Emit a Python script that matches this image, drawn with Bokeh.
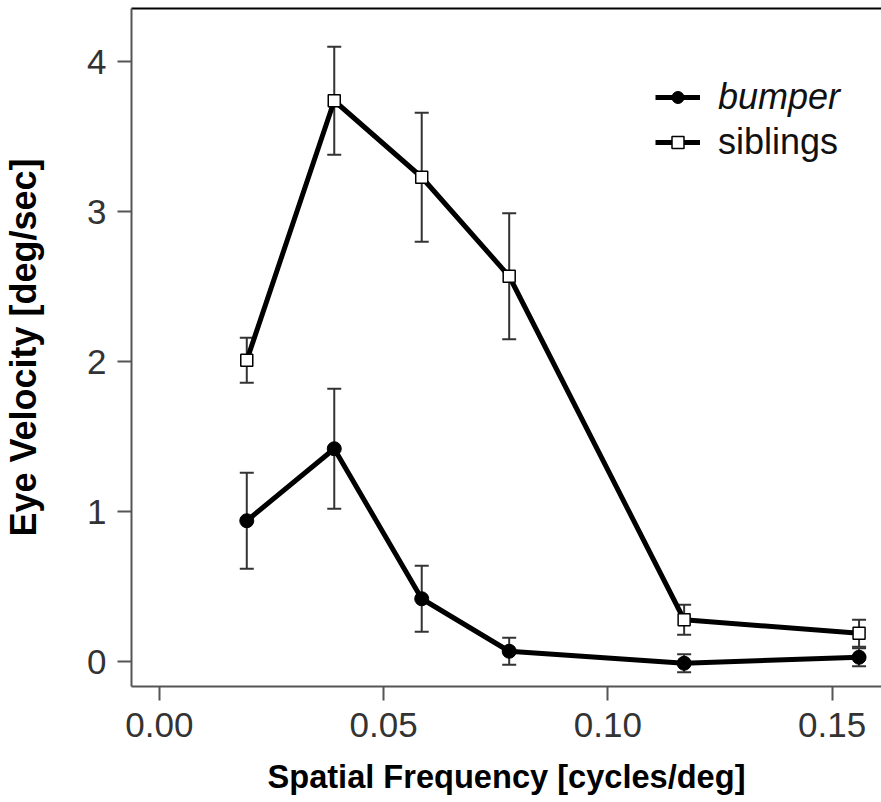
from bokeh.plotting import figure
from bokeh.models import (ColumnDataSource, Whisker, TeeHead, Legend, LegendItem,
                          LinearAxis, FixedTicker, Range1d)
from bokeh.embed import file_html
from bokeh.resources import INLINE

# ---- data ----
freq = [0.0195, 0.039, 0.0585, 0.078, 0.117, 0.156]
bumper = [0.94, 1.42, 0.42, 0.07, -0.01, 0.03]
bumper_sem = [0.32, 0.40, 0.22, 0.09, 0.06, 0.06]
siblings = [2.01, 3.74, 3.23, 2.57, 0.28, 0.19]
siblings_sem = [0.15, 0.36, 0.43, 0.42, 0.10, 0.09]
x_ticks = [0.0, 0.05, 0.10, 0.15]
y_ticks = [0, 1, 2, 3, 4]

FONT = "Liberation Sans"

def src(vals, sem):
    return ColumnDataSource(dict(
        x=freq, y=vals,
        upper=[v + s for v, s in zip(vals, sem)],
        lower=[v - s for v, s in zip(vals, sem)]))

s_b = src(bumper, bumper_sem)
s_s = src(siblings, siblings_sem)

p = figure(width=881, height=797, output_backend="svg", toolbar_location=None,
           x_range=Range1d(-0.0062, 0.1610), y_range=Range1d(-0.165, 4.355),
           min_border_left=129, min_border_top=8, min_border_right=0)
p.background_fill_color = "white"
p.border_fill_color = "white"
p.outline_line_color = None
p.grid.visible = False

xax = p.below[0]
yax = p.left[0]

for ax in (xax, yax):
    ax.axis_line_color = "#555555"
    ax.axis_line_width = 2
    ax.major_tick_line_color = "#555555"
    ax.major_tick_line_width = 2
    ax.major_tick_out = 14
    ax.major_tick_in = 0
    ax.minor_tick_line_color = None
    ax.major_label_text_font = FONT
    ax.major_label_text_font_size = "35px"
    ax.major_label_text_color = "#333333"
    ax.axis_label_text_font = FONT
    ax.axis_label_text_font_style = "bold"
    ax.axis_label_text_color = "black"

xax.ticker = FixedTicker(ticks=x_ticks)
xax.major_label_overrides = {t: f"{t:.2f}" for t in x_ticks}
xax.axis_label = "Spatial Frequency [cycles/deg]"
xax.axis_label_text_font_size = "32.6px"
xax.major_label_standoff = 12
xax.axis_label_standoff = 18

yax.ticker = FixedTicker(ticks=y_ticks)
yax.axis_label = "Eye Velocity [deg/sec]"
yax.axis_label_text_font_size = "36px"
yax.major_label_standoff = 11
yax.axis_label_standoff = 40

# top frame line
top = LinearAxis(ticker=FixedTicker(ticks=[]), axis_line_color="black", axis_line_width=2,
                 major_tick_line_color=None, minor_tick_line_color=None,
                 major_label_text_font_size="0px", major_tick_out=0, major_tick_in=0,
                 major_label_standoff=0)
p.add_layout(top, "above")

for s in (s_s, s_b):
    p.add_layout(Whisker(source=s, base="x", upper="upper", lower="lower",
                         dimension="height", line_color="#333333", line_width=2,
                         upper_head=TeeHead(size=14, line_color="#333333", line_width=2),
                         lower_head=TeeHead(size=14, line_color="#333333", line_width=2)))

lb = p.line("x", "y", source=s_b, line_color="black", line_width=5)
mb = p.scatter("x", "y", source=s_b, marker="circle", size=14,
               fill_color="black", line_color="black")
ls = p.line("x", "y", source=s_s, line_color="black", line_width=5)
ms = p.scatter("x", "y", source=s_s, marker="square", size=12,
               fill_color="white", line_color="black", line_width=1.5)

common = dict(label_text_font=FONT, label_text_font_size="36px", label_text_color="#111111",
              glyph_width=45, glyph_height=30, label_height=45, label_standoff=18,
              padding=0, margin=0, spacing=0, border_line_color=None,
              background_fill_alpha=0)
leg1 = Legend(items=[LegendItem(label="bumper", renderers=[lb, mb])],
              location=(524, 567), label_text_font_style="italic", **common)
leg2 = Legend(items=[LegendItem(label="siblings", renderers=[ls, ms])],
              location=(524, 522), **common)
p.add_layout(leg1, "center")
p.add_layout(leg2, "center")

open("out.html", "w").write(file_html(p, INLINE))
